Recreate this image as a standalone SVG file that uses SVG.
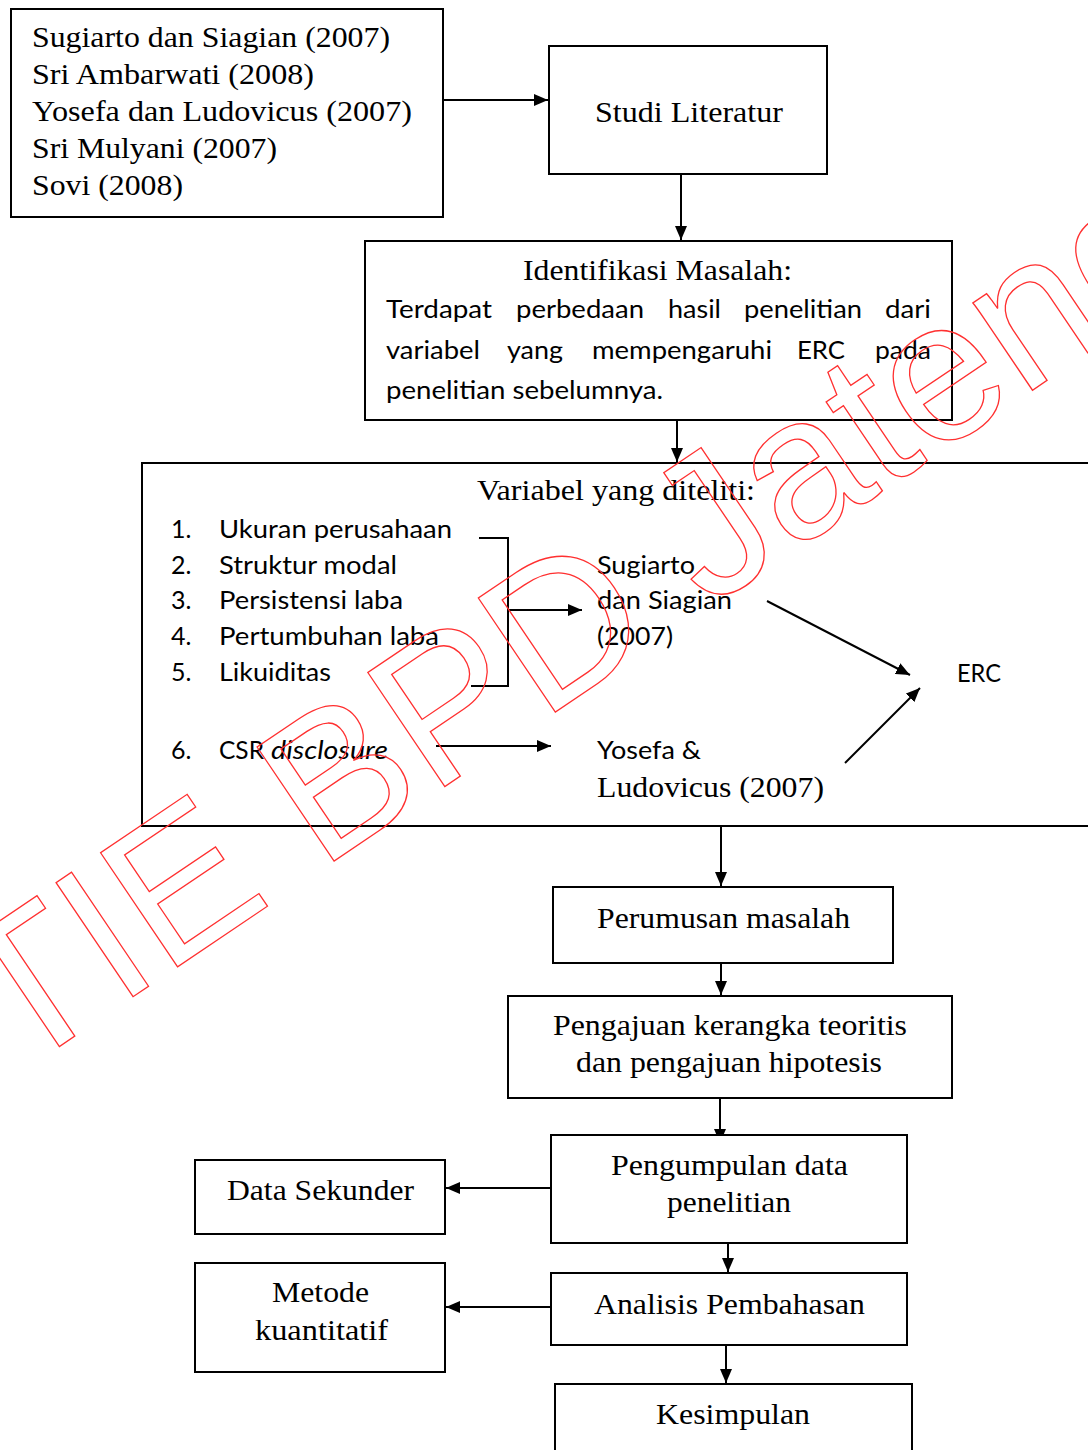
<svg xmlns="http://www.w3.org/2000/svg" width="1088" height="1450" viewBox="0 0 1088 1450">
<defs>
<marker id="ah" markerWidth="14" markerHeight="12" refX="14" refY="6" orient="auto" markerUnits="userSpaceOnUse"><path d="M0,0 L14,6 L0,12 z" fill="#000"/></marker>
<style>
.box{fill:#fff;stroke:#000;stroke-width:2}
.t{font-family:"Liberation Serif","Times New Roman",serif;font-size:30px;fill:#000}
.c{font-family:Lato,"Liberation Sans",sans-serif;font-size:25px;fill:#000}
.ln{fill:none;stroke:#000;stroke-width:2}
.ar{fill:none;stroke:#000;stroke-width:2;marker-end:url(#ah)}
.wm{font-family:"Liberation Sans",Arial,sans-serif;font-size:200px;fill:none;stroke:#ff3030;stroke-width:1.3}
</style>
</defs>
<rect width="1088" height="1450" fill="#fff"/>
<g id="connectors">
<path class="ar" d="M443,100 H548"/>
<path class="ar" d="M681,174 V240"/>
<path class="ar" d="M677,420 V462"/>
<path class="ln" d="M479,538 H508 V686 H471"/>
<path class="ar" d="M508,610 H582"/>
<path class="ar" d="M436,746 H551"/>
<path class="ar" d="M767,601 L910,675"/>
<path class="ar" d="M845,763 L920,688"/>
<path class="ar" d="M721,826 V886"/>
<path class="ar" d="M721,963 V995"/>
<path class="ar" d="M720,1098 V1143"/>
<path class="ar" d="M551,1188 H446"/>
<path class="ar" d="M728,1243 V1272"/>
<path class="ar" d="M551,1307 H446"/>
<path class="ar" d="M726,1345 V1383"/>
</g>
<g id="references">
<rect class="box" x="11" y="9" width="432" height="208"/>
<text class="t" x="32" y="47" textLength="358" lengthAdjust="spacingAndGlyphs">Sugiarto dan Siagian (2007)</text>
<text class="t" x="32" y="84" textLength="282" lengthAdjust="spacingAndGlyphs">Sri Ambarwati (2008)</text>
<text class="t" x="32" y="121" textLength="380" lengthAdjust="spacingAndGlyphs">Yosefa dan Ludovicus (2007)</text>
<text class="t" x="32" y="158" textLength="245" lengthAdjust="spacingAndGlyphs">Sri Mulyani (2007)</text>
<text class="t" x="32" y="195" textLength="151" lengthAdjust="spacingAndGlyphs">Sovi (2008)</text>
</g>
<g id="studi">
<rect class="box" x="549" y="46" width="278" height="128"/>
<text class="t" x="595" y="122" textLength="188" lengthAdjust="spacingAndGlyphs">Studi Literatur</text>
</g>
<g id="identifikasi">
<rect class="box" x="365" y="241" width="587" height="179"/>
<text class="t" x="523" y="280" textLength="269" lengthAdjust="spacingAndGlyphs">Identifikasi Masalah:</text>
<text class="c" y="318"><tspan x="386" textLength="106" lengthAdjust="spacingAndGlyphs">Terdapat</tspan><tspan x="516" textLength="128" lengthAdjust="spacingAndGlyphs">perbedaan</tspan><tspan x="668" textLength="53" lengthAdjust="spacingAndGlyphs">hasil</tspan><tspan x="744" textLength="118" lengthAdjust="spacingAndGlyphs">penelitian</tspan><tspan x="885" textLength="46" lengthAdjust="spacingAndGlyphs">dari</tspan></text>
<text class="c" y="359"><tspan x="386" textLength="94" lengthAdjust="spacingAndGlyphs">variabel</tspan><tspan x="507" textLength="56" lengthAdjust="spacingAndGlyphs">yang</tspan><tspan x="592" textLength="180" lengthAdjust="spacingAndGlyphs">mempengaruhi</tspan><tspan x="797" textLength="48" lengthAdjust="spacingAndGlyphs">ERC</tspan><tspan x="875" textLength="56" lengthAdjust="spacingAndGlyphs">pada</tspan></text>
<text class="c" x="386" y="399" textLength="277" lengthAdjust="spacingAndGlyphs">penelitian sebelumnya.</text>
</g>
<g id="variabel">
<path class="ln" d="M1090,463 H142 V826 H1090"/>
<text class="t" x="477" y="500" textLength="278" lengthAdjust="spacingAndGlyphs">Variabel yang diteliti:</text>
<text class="c" x="171" y="538">1.</text><text class="c" x="219" y="538" textLength="233" lengthAdjust="spacingAndGlyphs">Ukuran perusahaan</text>
<text class="c" x="171" y="574">2.</text><text class="c" x="219" y="574" textLength="178" lengthAdjust="spacingAndGlyphs">Struktur modal</text>
<text class="c" x="171" y="609">3.</text><text class="c" x="219" y="609" textLength="184" lengthAdjust="spacingAndGlyphs">Persistensi laba</text>
<text class="c" x="171" y="645">4.</text><text class="c" x="219" y="645" textLength="220" lengthAdjust="spacingAndGlyphs">Pertumbuhan laba</text>
<text class="c" x="171" y="681">5.</text><text class="c" x="219" y="681" textLength="112" lengthAdjust="spacingAndGlyphs">Likuiditas</text>
<text class="c" x="171" y="759">6.</text><text class="c" x="219" y="759"><tspan textLength="45" lengthAdjust="spacingAndGlyphs">CSR</tspan> <tspan x="271" font-style="italic" textLength="117" lengthAdjust="spacingAndGlyphs">disclosure</tspan></text>
<text class="c" x="597" y="574" textLength="98" lengthAdjust="spacingAndGlyphs">Sugiarto</text>
<text class="c" x="597" y="609" textLength="135" lengthAdjust="spacingAndGlyphs">dan Siagian</text>
<text class="c" x="597" y="645" textLength="76" lengthAdjust="spacingAndGlyphs">(2007)</text>
<text class="c" x="957" y="682" textLength="44" lengthAdjust="spacingAndGlyphs">ERC</text>
<text class="c" x="597" y="759" textLength="104" lengthAdjust="spacingAndGlyphs">Yosefa &amp;</text>
<text class="t" x="597" y="797" textLength="227" lengthAdjust="spacingAndGlyphs">Ludovicus (2007)</text>
</g>
<g id="perumusan">
<rect class="box" x="553" y="887" width="340" height="76"/>
<text class="t" x="597" y="928" textLength="253" lengthAdjust="spacingAndGlyphs">Perumusan masalah</text>
</g>
<g id="pengajuan">
<rect class="box" x="508" y="996" width="444" height="102"/>
<text class="t" x="553" y="1035" textLength="354" lengthAdjust="spacingAndGlyphs">Pengajuan kerangka teoritis</text>
<text class="t" x="576" y="1072" textLength="306" lengthAdjust="spacingAndGlyphs">dan pengajuan hipotesis</text>
</g>
<g id="pengumpulan">
<rect class="box" x="551" y="1135" width="356" height="108"/>
<text class="t" x="611" y="1175" textLength="237" lengthAdjust="spacingAndGlyphs">Pengumpulan data</text>
<text class="t" x="667" y="1212" textLength="124" lengthAdjust="spacingAndGlyphs">penelitian</text>
</g>
<g id="datasekunder">
<rect class="box" x="195" y="1160" width="250" height="74"/>
<text class="t" x="227" y="1200" textLength="187" lengthAdjust="spacingAndGlyphs">Data Sekunder</text>
</g>
<g id="analisis">
<rect class="box" x="551" y="1273" width="356" height="72"/>
<text class="t" x="594" y="1314" textLength="271" lengthAdjust="spacingAndGlyphs">Analisis Pembahasan</text>
</g>
<g id="metode">
<rect class="box" x="195" y="1263" width="250" height="109"/>
<text class="t" x="272" y="1302" textLength="97" lengthAdjust="spacingAndGlyphs">Metode</text>
<text class="t" x="255" y="1340" textLength="133" lengthAdjust="spacingAndGlyphs">kuantitatif</text>
</g>
<g id="kesimpulan">
<rect class="box" x="555" y="1384" width="357" height="80"/>
<text class="t" x="656" y="1424" textLength="154" lengthAdjust="spacingAndGlyphs">Kesimpulan</text>
</g>
<text class="wm" x="-94" y="1150" transform="rotate(-34 -94 1150)">STIE BPD Jateng</text>
</svg>
